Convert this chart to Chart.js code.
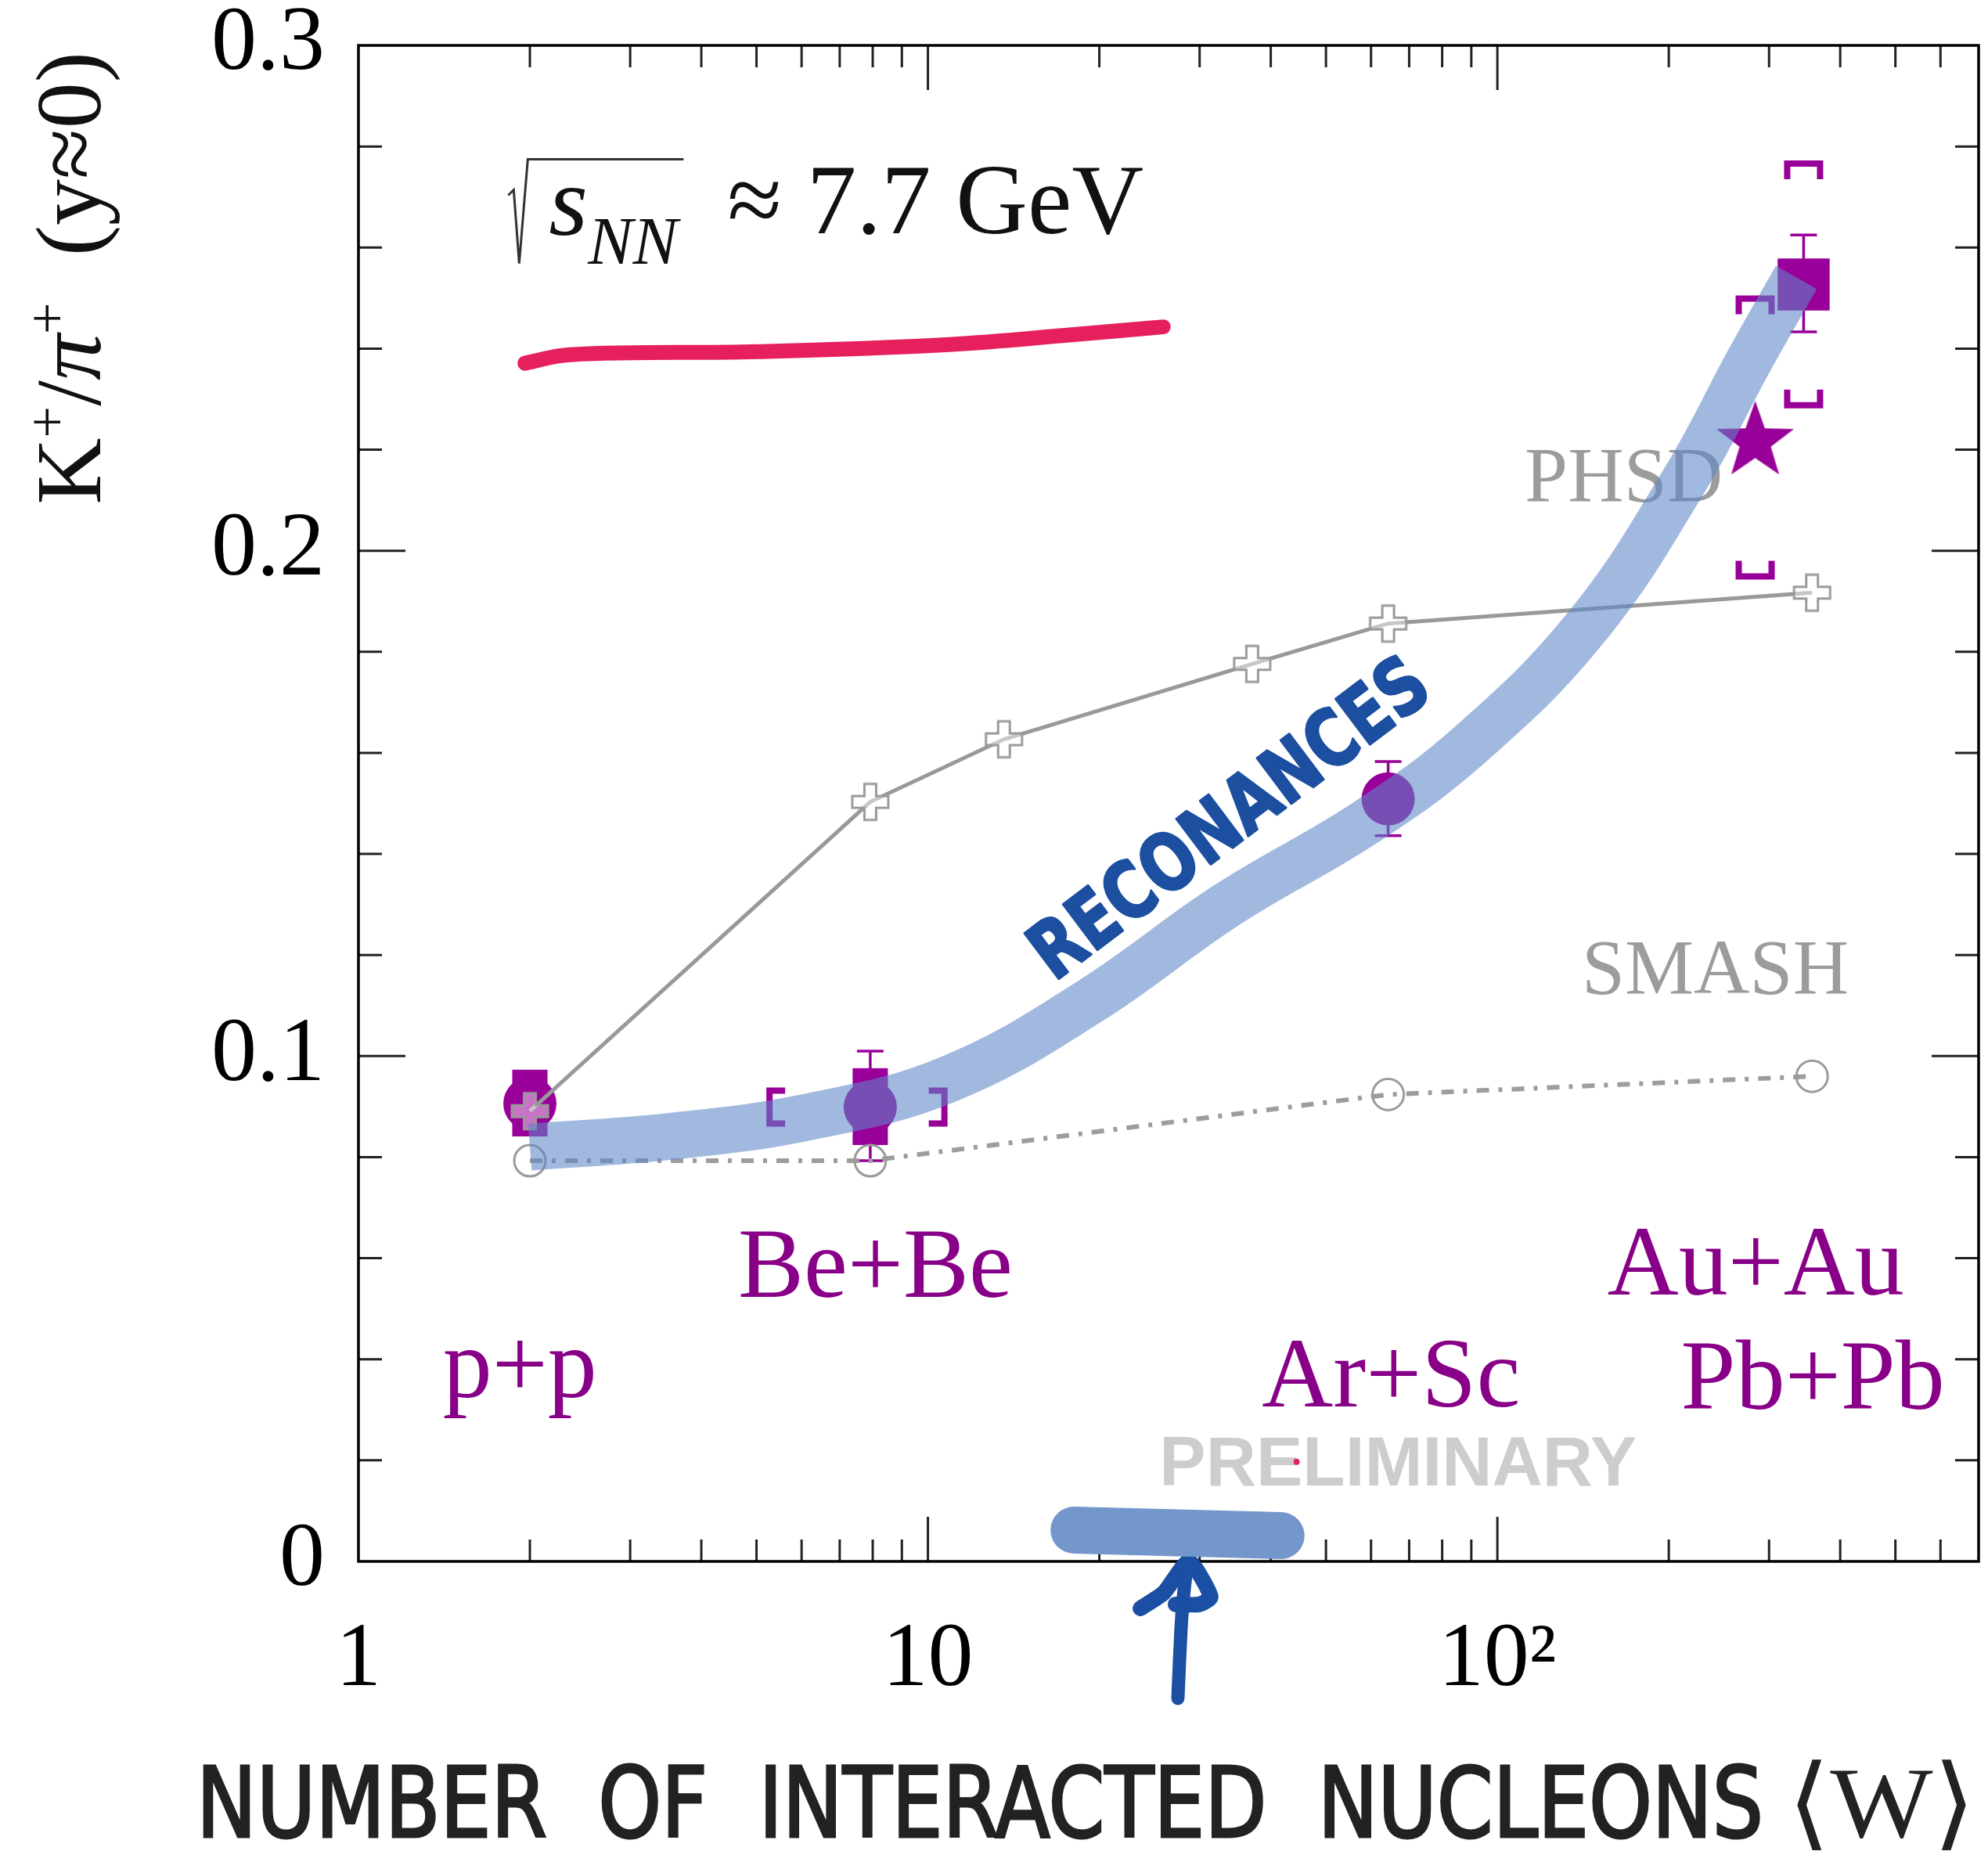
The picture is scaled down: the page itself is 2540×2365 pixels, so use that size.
<!DOCTYPE html>
<html>
<head>
<meta charset="utf-8">
<script src="https://cdn.jsdelivr.net/npm/chart.js@4.4.1/dist/chart.umd.min.js"></script>
<style>
  html, body { margin: 0; padding: 0; background: #fff; overflow: hidden; }
  canvas { display: block; }
</style>
</head>
<body>
<canvas id="chart" width="2540" height="2365"></canvas>
<script>
// K+/pi+ at mid-rapidity vs number of wounded nucleons

// axes
const xTicks = [1, 10, 100]
const xTickLabels = ['1', '10', '10²']
const yTicks = [0, 0.1, 0.2, 0.3]
const yTickLabels = ['0', '0.1', '0.2', '0.3']
const xMarks = [2, 3, 4, 5, 6, 7, 8, 9, 10, 20, 30, 40, 50, 60, 70, 80, 90, 100, 200, 300, 400, 500, 600]
const xMajorMarks = [10, 100]
const yMarks = [0.02, 0.04, 0.06, 0.08, 0.1, 0.12, 0.14, 0.16, 0.18, 0.2, 0.22, 0.24, 0.26, 0.28]
const yMajorMarks = [0.1, 0.2]

// PHSD model (solid, open crosses)
const phsdX = [2, 7.92, 13.6, 37.1, 64.3, 357]
const phsdY = [0.0891, 0.1503, 0.1627, 0.1776, 0.1856, 0.1917]

// SMASH model (dash-dot, open circles)
const smashX = [2, 7.92, 64.3, 357]
const smashY = [0.0793, 0.0793, 0.0924, 0.0960]

// NA61/SHINE (filled circles)
const na61X = [2, 7.92, 64.3]
const na61Y = [0.0906, 0.0899, 0.1509]
const na61ErrLo = [null, 0.0793, 0.1436]
const na61ErrHi = [null, 0.1010, 0.1583]

// filled boxes behind p+p and Be+Be
const boxX = [2, 7.92]
const boxLo = [0.0841, 0.0824]
const boxHi = [0.0973, 0.0976]

// Be+Be horizontal systematics
const beSysX = [5.27, 10.69]
const beSysY = [0.0899, 0.0899]

// Au+Au (square) and Pb+Pb (star)
const auX = [345]
const auY = [0.2527]
const auErrLo = [0.2433]
const auErrHi = [0.2625]
const auSysLo = [0.2288]
const auSysHi = [0.2766]
const pbX = [283.6]
const pbY = [0.2216]
const pbSysLo = [0.1949]
const pbSysHi = [0.2499]

// hand drawn marks
const bandX = [2.0, 3.52, 6.19, 10.9, 19.1, 33.5, 59.0, 90.1, 144, 214, 278, 335]
const bandY = [0.0820, 0.0841, 0.0880, 0.0955, 0.1106, 0.1299, 0.1464, 0.1619, 0.1852, 0.2143, 0.2380, 0.2541]
const redX = [1.96, 2.35, 5.05, 10.9, 18.2, 25.9]
const redY = [0.2371, 0.2388, 0.2394, 0.2408, 0.2428, 0.2443]
const blobX = [18.05, 41.7]
const blobY = [0.0062, 0.0051]
const shaftX = [27.48, 27.83, 28.10, 28.54]
const shaftY = [-0.0271, -0.0132, -0.0070, 0]
const headX = [23.61, 25.96, 28.72, 31.38, 29.93, 27.22]
const headY = [-0.0093, -0.0062, 0, -0.0070, -0.0085, -0.0085]

// text labels (data coordinates of the left baseline)
const sysText = ['p+p', 'Be+Be', 'Ar+Sc', 'Au+Au', 'Pb+Pb']
const sysTextX = [1.406, 4.64, 38.6, 156, 210]
const sysTextY = [0.0325, 0.0524, 0.0307, 0.0528, 0.0302]
const modelText = ['PHSD', 'SMASH']
const modelTextX = [111.7, 140.7]
const modelTextY = [0.2098, 0.1125]
const prelimX = 25.5, prelimY = 0.0150
const energyX = 2.16, energyY = 0.2629
const handX = 36.0, handY = 0.1430

const PURPLE = '#990099'
const SERIF = '"Liberation Serif", "Times New Roman", "DejaVu Serif", serif'

const pts = (xs, ys) => xs.map((x, i) => ({ x, y: ys[i] }))

function crossMarker() {
  const s = 46, arm = 15, c = document.createElement('canvas')
  c.width = c.height = s + 6
  const g = c.getContext('2d')
  const m = (s + 6) / 2, h = s / 2, a = arm / 2
  g.beginPath()
  g.moveTo(m - a, m - h); g.lineTo(m + a, m - h); g.lineTo(m + a, m - a); g.lineTo(m + h, m - a)
  g.lineTo(m + h, m + a); g.lineTo(m + a, m + a); g.lineTo(m + a, m + h); g.lineTo(m - a, m + h)
  g.lineTo(m - a, m + a); g.lineTo(m - h, m + a); g.lineTo(m - h, m - a); g.lineTo(m - a, m - a)
  g.closePath()
  g.fillStyle = 'rgba(255,255,255,0.45)'
  g.fill()
  g.lineWidth = 3
  g.strokeStyle = '#9a9a9a'
  g.stroke()
  return c
}

function starMarker() {
  const R = 52, r = 21, c = document.createElement('canvas')
  c.width = c.height = 2 * R + 4
  const g = c.getContext('2d')
  const m = R + 2
  g.beginPath()
  for (let i = 0; i < 10; i++) {
    const rad = i % 2 ? r : R
    const ang = -Math.PI / 2 + i * Math.PI / 5
    g.lineTo(m + rad * Math.cos(ang), m + rad * Math.sin(ang))
  }
  g.closePath()
  g.fillStyle = PURPLE
  g.fill()
  return c
}

// rich text: parts = [text, font, dy]
function drawParts(ctx, x, y, parts) {
  let cx = x
  for (const [t, font, dy] of parts) {
    ctx.font = font
    ctx.fillText(t, cx, y + (dy || 0))
    cx += ctx.measureText(t).width
  }
  return cx
}

const decorations = {
  id: 'decorations',
  beforeDatasetsDraw(chart) {
    const { ctx, chartArea: a, scales: { x, y } } = chart
    ctx.save()

    // inward ticks on all four sides
    ctx.strokeStyle = '#222'
    ctx.lineWidth = 3
    ctx.beginPath()
    xMarks.forEach(v => {
      const px = x.getPixelForValue(v)
      const len = xMajorMarks.includes(v) ? 57 : 28
      ctx.moveTo(px, a.bottom); ctx.lineTo(px, a.bottom - len)
      ctx.moveTo(px, a.top); ctx.lineTo(px, a.top + len)
    })
    yMarks.forEach(v => {
      const py = y.getPixelForValue(v)
      const len = yMajorMarks.some(m => Math.abs(m - v) < 1e-9) ? 60 : 30
      ctx.moveTo(a.left, py); ctx.lineTo(a.left + len, py)
      ctx.moveTo(a.right, py); ctx.lineTo(a.right - len, py)
    })
    ctx.stroke()
    ctx.lineWidth = 3.5
    ctx.strokeStyle = '#000'
    ctx.strokeRect(a.left, a.top, a.width, a.height)

    // boxes behind p+p and Be+Be
    ctx.fillStyle = PURPLE
    boxX.forEach((v, i) => {
      const px = x.getPixelForValue(v)
      const top = y.getPixelForValue(boxHi[i]), bot = y.getPixelForValue(boxLo[i])
      ctx.fillRect(px - 22.5, top, 45, bot - top)
    })

    // error bars
    ctx.strokeStyle = PURPLE
    ctx.lineWidth = 3.5
    const errBar = (xv, lo, hi) => {
      const px = x.getPixelForValue(xv)
      const t = y.getPixelForValue(hi), b = y.getPixelForValue(lo)
      ctx.beginPath()
      ctx.moveTo(px, t); ctx.lineTo(px, b)
      ctx.moveTo(px - 17, t); ctx.lineTo(px + 17, t)
      ctx.moveTo(px - 17, b); ctx.lineTo(px + 17, b)
      ctx.stroke()
    }
    na61X.forEach((v, i) => { if (na61ErrLo[i] != null) errBar(v, na61ErrLo[i], na61ErrHi[i]) })
    auX.forEach((v, i) => errBar(v, auErrLo[i], auErrHi[i]))

    // systematic brackets
    ctx.lineWidth = 8
    ctx.lineJoin = 'miter'
    const vBracket = (xv, yv, dir) => {
      const px = x.getPixelForValue(xv), py = y.getPixelForValue(yv)
      ctx.beginPath()
      ctx.moveTo(px - 21, py + dir * 20); ctx.lineTo(px - 21, py); ctx.lineTo(px + 21, py); ctx.lineTo(px + 21, py + dir * 20)
      ctx.stroke()
    }
    auX.forEach((v, i) => { vBracket(v, auSysHi[i], 1); vBracket(v, auSysLo[i], -1) })
    pbX.forEach((v, i) => { vBracket(v, pbSysHi[i], 1); vBracket(v, pbSysLo[i], -1) })
    beSysX.forEach((v, i) => {
      const px = x.getPixelForValue(v), py = y.getPixelForValue(beSysY[i])
      const dir = i === 0 ? 1 : -1
      ctx.beginPath()
      ctx.moveTo(px + dir * 20, py - 21); ctx.lineTo(px, py - 21); ctx.lineTo(px, py + 21); ctx.lineTo(px + dir * 20, py + 21)
      ctx.stroke()
    })

    // collision system labels
    ctx.textAlign = 'left'
    ctx.textBaseline = 'alphabetic'
    ctx.fillStyle = '#880088'
    ctx.font = '126px ' + SERIF
    sysText.forEach((t, i) => ctx.fillText(t, x.getPixelForValue(sysTextX[i]), y.getPixelForValue(sysTextY[i])))

    ctx.fillStyle = '#9c9c9c'
    ctx.font = '99px ' + SERIF
    modelText.forEach((t, i) => ctx.fillText(t, x.getPixelForValue(modelTextX[i]), y.getPixelForValue(modelTextY[i])))

    ctx.fillStyle = '#cdcdcd'
    ctx.font = 'bold 89px "Liberation Sans", Arial, sans-serif'
    ctx.fillText('PRELIMINARY', x.getPixelForValue(prelimX), y.getPixelForValue(prelimY))

    // sqrt(s_NN) ~ 7.7 GeV
    const ex = x.getPixelForValue(energyX), ey = y.getPixelForValue(energyY)
    ctx.strokeStyle = '#333'
    ctx.lineWidth = 3
    ctx.beginPath()
    ctx.moveTo(ex - 52, ey - 48); ctx.lineTo(ex - 45, ey - 55); ctx.lineTo(ex - 38, ey + 39)
    ctx.lineTo(ex - 27, ey - 94); ctx.lineTo(ex + 172, ey - 94)
    ctx.stroke()
    ctx.fillStyle = '#111'
    drawParts(ctx, ex, ey, [
      ['s', 'italic 128px ' + SERIF, 2],
      ['NN', 'italic 86px ' + SERIF, 39],
      ['  ≈ 7.7 GeV', '127px ' + SERIF, 0]
    ])
    ctx.restore()
  },
  afterDatasetsDraw(chart) {
    const { ctx, scales: { x, y } } = chart
    ctx.save()
    // handwritten word
    const hx = x.getPixelForValue(handX), hy = y.getPixelForValue(handY)
    ctx.translate(hx, hy)
    ctx.rotate(-37 * Math.PI / 180)
    ctx.font = 'bold 100px "DejaVu Sans", sans-serif'
    const w = ctx.measureText('RECONANCES').width
    ctx.scale(610 / w, 1)
    ctx.textAlign = 'center'
    ctx.fillStyle = '#1c4f9f'
    ctx.strokeStyle = '#1c4f9f'
    ctx.lineWidth = 3
    ctx.lineJoin = 'round'
    ctx.strokeText('RECONANCES', 0, 0)
    ctx.fillText('RECONANCES', 0, 0)
    ctx.restore()

    ctx.save()
    ctx.fillStyle = '#e0245e'
    ctx.beginPath()
    ctx.arc(x.getPixelForValue(44.4), y.getPixelForValue(0.0197), 4, 0, 2 * Math.PI)
    ctx.fill()
    ctx.restore()
  },
  afterDraw(chart) {
    const { ctx, chartArea: a } = chart
    ctx.save()
    ctx.textBaseline = 'alphabetic'
    // y title, rotated
    ctx.translate(a.left - 330, a.top + 8)
    ctx.rotate(-Math.PI / 2)
    ctx.fillStyle = '#111'
    const yParts = [
      ['K', '118px ' + SERIF, 0],
      ['+', '72px ' + SERIF, -44],
      ['/', '118px ' + SERIF, 0],
      ['π', 'italic 118px ' + SERIF, 0],
      ['+', '72px ' + SERIF, -44],
      ['  (y≈0)', '118px ' + SERIF, 0]
    ]
    let total = 0
    yParts.forEach(([t, f]) => { ctx.font = f; total += ctx.measureText(t).width })
    drawParts(ctx, -total, 0, yParts)
    ctx.restore()

    // x title
    ctx.save()
    ctx.fillStyle = '#222'
    ctx.strokeStyle = '#222'
    ctx.lineWidth = 3
    ctx.textBaseline = 'alphabetic'
    const base = a.bottom + 352
    const words = 'NUMBER  OF  INTERACTED  NUCLEONS'
    ctx.font = '124px "Liberation Sans Narrow", "DejaVu Sans Condensed", Roboto, sans-serif'
    const ww = ctx.measureText(words).width
    ctx.save()
    ctx.translate(a.left - 207, base)
    ctx.scale(2002 / ww, 1)
    ctx.fillText(words, 0, 0)
    ctx.strokeText(words, 0, 0)
    ctx.restore()
    ctx.font = '130px ' + SERIF + ', "DejaVu Sans"'
    const wb = ctx.measureText('⟨W⟩').width
    ctx.translate(a.left + 1826, base)
    ctx.scale(240 / wb, 1)
    ctx.fillText('⟨W⟩', 0, 0)
    ctx.restore()
  }
}

new Chart(document.getElementById('chart'), {
  type: 'line',
  data: {
    datasets: [
      {
        // hand drawn band
        data: pts(bandX, bandY),
        borderColor: 'rgba(95,135,200,0.58)',
        borderWidth: 60,
        borderCapStyle: 'butt',
        borderJoinStyle: 'round',
        tension: 0.4,
        pointRadius: 0,
        order: 1
      },
      {
        data: pts(redX, redY),
        borderColor: '#e6205c',
        borderWidth: 19,
        borderCapStyle: 'round',
        tension: 0.4,
        pointRadius: 0,
        order: 0
      },
      {
        data: pts(blobX, blobY),
        borderColor: '#7397cb',
        borderWidth: 60,
        borderCapStyle: 'round',
        pointRadius: 0,
        clip: false,
        order: 0
      },
      {
        data: pts(shaftX, shaftY),
        borderColor: '#1b4fa3',
        borderWidth: 17,
        borderCapStyle: 'round',
        tension: 0.3,
        pointRadius: 0,
        clip: false,
        order: 0
      },
      {
        data: pts(headX, headY),
        borderColor: '#1b4fa3',
        borderWidth: 20,
        borderCapStyle: 'round',
        borderJoinStyle: 'round',
        tension: 0.2,
        pointRadius: 0,
        clip: false,
        order: 0
      },
      {
        // PHSD
        data: pts(phsdX, phsdY),
        borderColor: '#999999',
        borderWidth: 5,
        pointStyle: crossMarker(),
        pointRadius: 23,
        order: 2
      },
      {
        // SMASH
        data: pts(smashX, smashY),
        borderColor: '#9d9d9d',
        borderWidth: 6,
        borderDash: [16, 12, 5, 12],
        pointStyle: 'circle',
        pointRadius: 20,
        pointBorderWidth: 3,
        pointBorderColor: '#9a9a9a',
        pointBackgroundColor: 'rgba(255,255,255,0)',
        order: 2
      },
      {
        // NA61/SHINE
        data: pts(na61X, na61Y),
        showLine: false,
        pointStyle: 'circle',
        pointRadius: 34,
        pointBorderWidth: 0,
        pointBackgroundColor: PURPLE,
        order: 3
      },
      {
        data: pts(auX, auY),
        showLine: false,
        pointStyle: 'rect',
        pointRadius: 47,
        pointBorderWidth: 0,
        pointBackgroundColor: PURPLE,
        order: 3
      },
      {
        data: pts(pbX, pbY),
        showLine: false,
        pointStyle: starMarker(),
        pointRadius: 50,
        order: 3
      }
    ]
  },
  options: {
    responsive: false,
    animation: false,
    devicePixelRatio: 1,
    layout: { autoPadding: false, padding: { top: 58, right: 12, left: 0, bottom: 0 } },
    plugins: { legend: { display: false }, tooltip: { enabled: false } },
    scales: {
      x: {
        type: 'logarithmic',
        min: 1,
        max: 700,
        grid: { display: false, drawTicks: false },
        border: { display: false },
        afterBuildTicks: s => { s.ticks = xTicks.map(v => ({ value: v })) },
        afterFit: s => {
          s.height = 370
          s.paddingLeft = 0; s.paddingRight = 0; s.paddingTop = 0; s.paddingBottom = 0
        },
        ticks: {
          autoSkip: false,
          maxRotation: 0,
          padding: 58,
          color: '#000',
          font: { family: SERIF, size: 116 },
          callback: (v, i) => xTickLabels[i]
        }
      },
      y: {
        type: 'linear',
        min: 0,
        max: 0.3,
        grid: { display: false, drawTicks: false },
        border: { display: false },
        afterBuildTicks: s => { s.ticks = yTicks.map(v => ({ value: v })) },
        afterFit: s => {
          s.width = 458
          s.paddingLeft = 0; s.paddingRight = 0; s.paddingTop = 0; s.paddingBottom = 0
        },
        ticks: {
          autoSkip: false,
          padding: 43,
          color: '#000',
          font: { family: SERIF, size: 116 },
          callback: (v, i) => yTickLabels[i]
        }
      }
    }
  },
  plugins: [decorations]
})
</script>
</body>
</html>
